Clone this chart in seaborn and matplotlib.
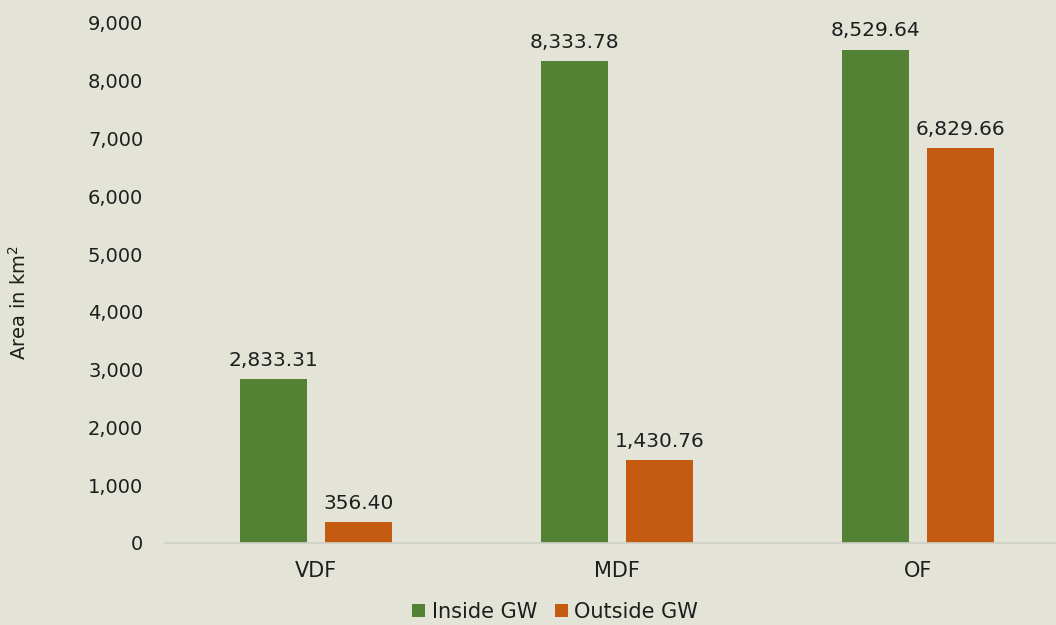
import matplotlib
matplotlib.use("Agg")
import matplotlib.pyplot as plt
import seaborn as sns
import pandas as pd
from matplotlib.ticker import FuncFormatter
from matplotlib.patches import Patch

categories = ["VDF", "MDF", "OF"]
inside_gw = [2833.31, 8333.78, 8529.64]
outside_gw = [356.40, 1430.76, 6829.66]
series_names = ["Inside GW", "Outside GW"]
colors = ["#548235", "#C55A11"]
bg = "#E3E4D7"
txt = "#1e1e1e"

df = pd.DataFrame({
    "cat": categories * 2,
    "val": inside_gw + outside_gw,
    "series": [series_names[0]] * 3 + [series_names[1]] * 3,
})

sns.set_style("white")
plt.rcParams["font.family"] = ["DejaVu Sans"]

fig = plt.figure(figsize=(10.56, 6.25), dpi=100, facecolor=bg)
ax = fig.add_axes([0.1567, 0.1312, 0.8551, 0.832])
ax.set_facecolor(bg)

sns.barplot(data=df, x="cat", y="val", hue="series", palette=colors,
            width=0.568, gap=0.216, ax=ax, legend=False, saturation=1,
            errorbar=None, linewidth=0, edgecolor="none")

for cont in ax.containers:
    ax.bar_label(cont, labels=[f"{v:,.2f}" for v in cont.datavalues],
                 padding=7, fontsize=14.5, color=txt)

ax.set_ylim(0, 9000)
ax.set_yticks(range(0, 9001, 1000))
ax.yaxis.set_major_formatter(FuncFormatter(lambda v, p: f"{int(v):,}"))
ax.tick_params(axis="y", labelsize=14, colors=txt, length=0, pad=16)
ax.tick_params(axis="x", labelsize=15, colors=txt, length=0, pad=13)
ax.set_xlabel("")
ax.set_ylabel("")
fig.text(19 / 1056, 1 - 302 / 625, "Area in km$^2$", rotation=90,
         ha="center", va="center", fontsize=14, color=txt)

for s in ["top", "right", "left"]:
    ax.spines[s].set_visible(False)
ax.spines["bottom"].set_color("#cfd0c6")
ax.spines["bottom"].set_linewidth(1.2)

handles = [Patch(facecolor=c, edgecolor="none", label=n)
           for c, n in zip(colors, series_names)]
fig.legend(handles=handles, loc="center", bbox_to_anchor=(0.5256, 0.0208),
           ncol=2, frameon=False, fontsize=15, handlelength=0.62,
           handleheight=0.62, handletextpad=0.3, columnspacing=0.85,
           borderpad=0, labelcolor=txt)

fig.savefig("out.png", dpi=100, facecolor=bg)
